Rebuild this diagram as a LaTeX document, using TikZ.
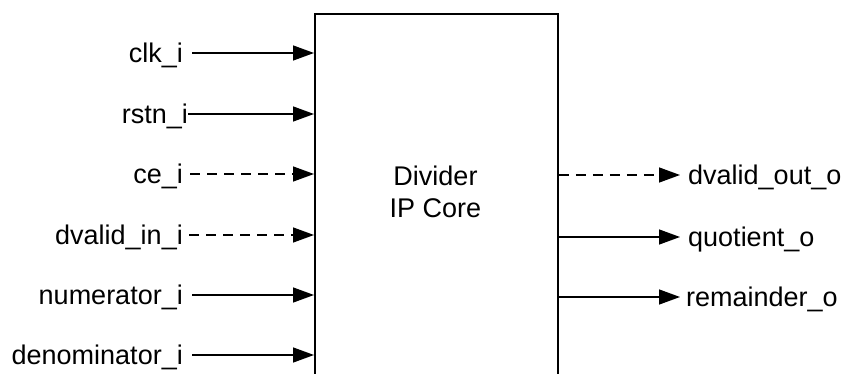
\documentclass[tikz,border=0pt]{standalone}
\usepackage{fontspec}
\setmainfont{Liberation Sans}
\usetikzlibrary{arrows.meta}
\begin{document}
\begin{tikzpicture}[x=1pt,y=-1pt,
  lbl/.style={inner sep=0pt,font=\fontsize{27}{32}\selectfont,text height=19pt,text depth=0pt},
  sig/.style={line width=1.4pt,-{Triangle[length=21pt,width=15pt]}},
  dsig/.style={sig,dash pattern=on 10pt off 7pt},
  core/.style={draw,line width=1.8pt,minimum width=243pt,minimum height=380pt,anchor=north west,inner sep=0pt}]
\useasboundingbox (0,0) rectangle (843,374);
\clip (0,0) rectangle (843,374);
\node[core] (box) at (314,13) {};
\node[inner sep=0pt,align=center,font=\fontsize{27}{32}\selectfont] (title) at (435.5,192) {Divider\\IP Core};
% inputs
\node[lbl,anchor=east] (clk) at (183,53) {clk\_i};
\node[lbl,anchor=east] (rstn) at (188,114) {rstn\_i};
\node[lbl,anchor=east] (ce) at (183,174) {ce\_i};
\node[lbl,anchor=east] (dvin) at (183,235) {dvalid\_in\_i};
\node[lbl,anchor=east] (num) at (183,295) {numerator\_i};
\node[lbl,anchor=east] (den) at (183,355) {denominator\_i};
\draw[sig] ([xshift=9pt]clk.east) -- (clk.east -| box.west);
\draw[sig] (rstn.east) -- (rstn.east -| box.west);
\draw[dsig] ([xshift=7pt]ce.east) -- (ce.east -| box.west);
\draw[dsig] ([xshift=6pt]dvin.east) -- (dvin.east -| box.west);
\draw[sig] ([xshift=9pt]num.east) -- (num.east -| box.west);
\draw[sig] ([xshift=9pt]den.east) -- (den.east -| box.west);
% outputs
\node[lbl,anchor=west] (dvout) at (688,175) {dvalid\_out\_o};
\node[lbl,anchor=west] (quot) at (688,237) {quotient\_o};
\node[lbl,anchor=west] (rem) at (686,297) {remainder\_o};
\draw[dsig] (dvout.west -| box.east) -- ([xshift=-8pt]dvout.west);
\draw[sig] (quot.west -| box.east) -- ([xshift=-8pt]quot.west);
\draw[sig] (rem.west -| box.east) -- ([xshift=-6pt]rem.west);
\end{tikzpicture}
\end{document}
